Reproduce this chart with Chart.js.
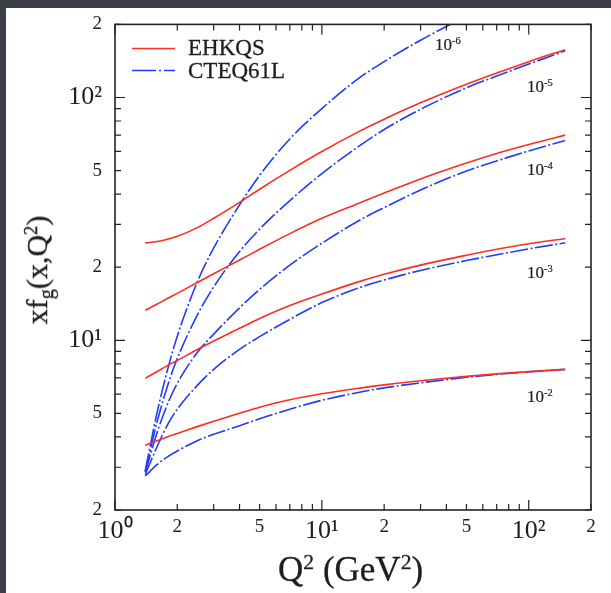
<!DOCTYPE html>
<html>
<head>
<meta charset="utf-8">
<script src="https://cdn.jsdelivr.net/npm/chart.js@4.4.0/dist/chart.umd.min.js"></script>
<style>
  body { margin: 0; background: #3b3e46; }
  .paper { position: absolute; left: 6px; top: 8px; width: 605px; height: 585px; background: #fff; }
  #box { position: absolute; left: 0; top: 0; width: 611px; height: 593px; }
  .lbl { position: absolute; font-family: "Liberation Serif", "Times New Roman", serif; color: #1e1e1e; white-space: nowrap; line-height: 1; -webkit-text-stroke: 0.3px #1e1e1e; }
  .lbl sup { font-size: 0.62em; line-height: 0; position: relative; top: -0.55em; vertical-align: baseline; }
  .lbl sub { font-size: 0.68em; line-height: 0; position: relative; top: 0.3em; vertical-align: baseline; }
  .note { font-size: 17px; -webkit-text-stroke: 0.2px #1e1e1e; }
  .leg { font-size: 23px; }
  .leg-line { position: absolute; left: 132px; width: 43px; height: 3px; overflow: visible; }
</style>
</head>
<body>
<div class="paper"></div>
<div id="box"><canvas id="gluonChart" width="611" height="593"></canvas></div>

<!-- legend -->
<svg class="leg-line" style="top:47px" width="43" height="3">
  <line x1="0" y1="1.5" x2="43" y2="1.5" stroke="#ff2d20" stroke-width="1.6"/>
</svg>
<svg class="leg-line" style="top:69px" width="43" height="3">
  <line x1="0" y1="1.5" x2="43" y2="1.5" stroke="#1f3cff" stroke-width="1.6" stroke-dasharray="24 3 2 3"/>
</svg>
<div class="lbl leg" style="left:188px;top:36px">EHKQS</div>
<div class="lbl leg" style="left:188px;top:59px">CTEQ61L</div>

<!-- curve labels (x values) -->
<div class="lbl note" style="left:435px;top:36px">10<sup>-6</sup></div>
<div class="lbl note" style="left:527px;top:78px">10<sup>-5</sup></div>
<div class="lbl note" style="left:527px;top:161px">10<sup>-4</sup></div>
<div class="lbl note" style="left:527px;top:264px">10<sup>-3</sup></div>
<div class="lbl note" style="left:527px;top:388px">10<sup>-2</sup></div>

<!-- axis titles -->
<div class="lbl" style="left:278px;top:552px;font-size:35px">Q<sup>2</sup> (GeV<sup>2</sup>)</div>
<div class="lbl" style="left:37px;top:270px;font-size:30px;transform:translate(-50%,-50%) rotate(-90deg)">xf<sub>g</sub>(x,Q<sup>2</sup>)</div>

<script>
  // Q^2 grid (GeV^2) the curves are read at
  let q2 = [1.4, 1.6, 1.8, 2, 2.5, 3, 4, 5, 7, 10, 15, 20, 30, 50, 70, 100, 150];
  let q2Short = [1.4, 1.6, 1.8, 2, 2.5, 3, 4, 5, 7, 10, 15, 20, 30, 50];

  // EHKQS gluon, xf_g(x,Q^2)
  let ehkqs1e5 = [25.2, 25.5, 26.1, 26.8, 29.1, 31.8, 37.0, 41.9, 50.1, 59.9, 72.2, 81.4, 95.1, 113.4, 126.1, 140.5, 157.4];
  let ehkqs1e4 = [13.3, 14.1, 14.9, 15.6, 17.3, 18.8, 21.4, 23.7, 27.5, 31.8, 36.6, 40.4, 46.2, 53.7, 58.8, 64.0, 70.0];
  let ehkqs1e3 = [6.97, 7.44, 7.88, 8.26, 9.17, 9.94, 11.2, 12.3, 13.9, 15.5, 17.4, 18.7, 20.4, 22.4, 23.7, 25.0, 26.2];
  let ehkqs1e2 = [3.70, 3.86, 4.01, 4.13, 4.41, 4.64, 5.01, 5.30, 5.69, 6.02, 6.34, 6.55, 6.81, 7.10, 7.27, 7.43, 7.59];

  // CTEQ61L gluon
  let cteq1e6 = [2.90, 5.07, 7.64, 10.4, 17.4, 24.0, 36.1, 47.8, 67.5, 90.0, 119.6, 140.5, 172.1, 216.5];
  let cteq1e5 = [2.88, 4.64, 6.55, 8.41, 12.7, 16.6, 23.2, 28.7, 37.6, 48.6, 62.7, 73.8, 89.4, 109.6, 122.5, 137.3, 155.7];
  let cteq1e4 = [2.86, 4.18, 5.50, 6.65, 8.91, 10.6, 13.6, 16.2, 20.4, 25.1, 31.0, 35.2, 41.6, 49.8, 54.8, 60.2, 66.5];
  let cteq1e3 = [2.80, 3.66, 4.51, 5.20, 6.52, 7.59, 9.17, 10.35, 12.2, 14.3, 16.4, 17.7, 19.4, 21.3, 22.5, 23.8, 25.2];
  let cteq1e2 = [2.76, 3.08, 3.32, 3.50, 3.86, 4.10, 4.45, 4.75, 5.20, 5.66, 6.10, 6.37, 6.68, 7.04, 7.24, 7.41, 7.59];

  // axis ticks
  let xTickVals = [1, 2, 5, 10, 20, 50, 100, 200];
  let yTickVals = [2, 5, 10, 20, 50, 100, 200];

  let redColor = "#ff2d20";
  let blueColor = "#1f3cff";
  let serif = "'Liberation Serif', 'Times New Roman', serif";

  function pts(xs, ys) {
    return ys.map((v, i) => ({ x: xs[i], y: v }));
  }

  function isDecade(v) {
    let l = Math.log10(v);
    return Math.abs(l - Math.round(l)) < 1e-9;
  }

  let supDigits = { 0: "\u2070", 1: "\u00b9", 2: "\u00b2" };
  function tickText(v) {
    if (isDecade(v)) return "10" + supDigits[Math.round(Math.log10(v))];
    return String(Math.round(v / Math.pow(10, Math.floor(Math.log10(v)))));
  }
  function tickFont(ctx) {
    let big = ctx.tick && isDecade(ctx.tick.value);
    return { family: serif, size: big ? 26 : 19 };
  }

  function redSet(ys) {
    return { data: pts(q2, ys), borderColor: redColor, borderWidth: 1.6 };
  }
  function blueSet(xs, ys) {
    return { data: pts(xs, ys), borderColor: blueColor, borderWidth: 1.6, borderDash: [18, 2.5, 2, 2.5] };
  }

  // inward ticks on all four sides + frame
  let frameTicks = {
    id: "frameTicks",
    afterDatasetsDraw(chart) {
      let { ctx, chartArea: a, scales } = chart;
      let xs = scales.x, ys = scales.y;
      ctx.save();
      ctx.strokeStyle = "#222";
      ctx.lineWidth = 1.2;
      ctx.beginPath();
      for (let d = 1; d <= 100; d *= 10) {
        for (let m = 1; m <= 9; m++) {
          let v = m * d;
          if (v < 1 || v > 200) continue;
          let px = xs.getPixelForValue(v);
          let len = m === 1 ? 10 : 6;
          ctx.moveTo(px, a.bottom); ctx.lineTo(px, a.bottom - len);
          ctx.moveTo(px, a.top); ctx.lineTo(px, a.top + len);
        }
      }
      for (let d = 1; d <= 100; d *= 10) {
        for (let m = 1; m <= 9; m++) {
          let v = m * d;
          if (v < 2 || v > 200) continue;
          let py = ys.getPixelForValue(v);
          let len = m === 1 ? 10 : 6;
          ctx.moveTo(a.left, py); ctx.lineTo(a.left + len, py);
          ctx.moveTo(a.right, py); ctx.lineTo(a.right - len, py);
        }
      }
      ctx.stroke();
      ctx.lineWidth = 1.6;
      ctx.strokeRect(a.left, a.top, a.right - a.left, a.bottom - a.top);
      ctx.restore();
    }
  };

  new Chart(document.getElementById("gluonChart"), {
    type: "line",
    data: {
      datasets: [
        redSet(ehkqs1e5),
        redSet(ehkqs1e4),
        redSet(ehkqs1e3),
        redSet(ehkqs1e2),
        blueSet(q2Short, cteq1e6),
        blueSet(q2, cteq1e5),
        blueSet(q2, cteq1e4),
        blueSet(q2, cteq1e3),
        blueSet(q2, cteq1e2),
      ],
    },
    options: {
      responsive: false,
      animation: false,
      layout: { padding: { top: 23, right: 20, bottom: 0, left: 0 } },
      elements: {
        point: { radius: 0 },
        line: { cubicInterpolationMode: "monotone", fill: false },
      },
      plugins: { legend: { display: false }, tooltip: { enabled: false } },
      scales: {
        x: {
          type: "logarithmic",
          min: 1,
          max: 200,
          afterBuildTicks: (s) => { s.ticks = xTickVals.map((v) => ({ value: v })); },
          afterFit: (s) => { s.height = 83; },
          grid: { display: false, drawTicks: false },
          border: { display: false },
          ticks: {
            autoSkip: false,
            maxRotation: 0,
            padding: 6,
            color: "#1e1e1e",
            font: tickFont,
            callback: (v) => tickText(v),
          },
        },
        y: {
          type: "logarithmic",
          min: 2,
          max: 200,
          afterBuildTicks: (s) => { s.ticks = yTickVals.map((v) => ({ value: v })); },
          afterFit: (s) => { s.width = 115; },
          grid: { display: false, drawTicks: false },
          border: { display: false },
          ticks: {
            autoSkip: false,
            padding: 13,
            color: "#1e1e1e",
            font: tickFont,
            callback: (v) => tickText(v),
          },
        },
      },
    },
    plugins: [frameTicks],
  });
</script>
</body>
</html>
